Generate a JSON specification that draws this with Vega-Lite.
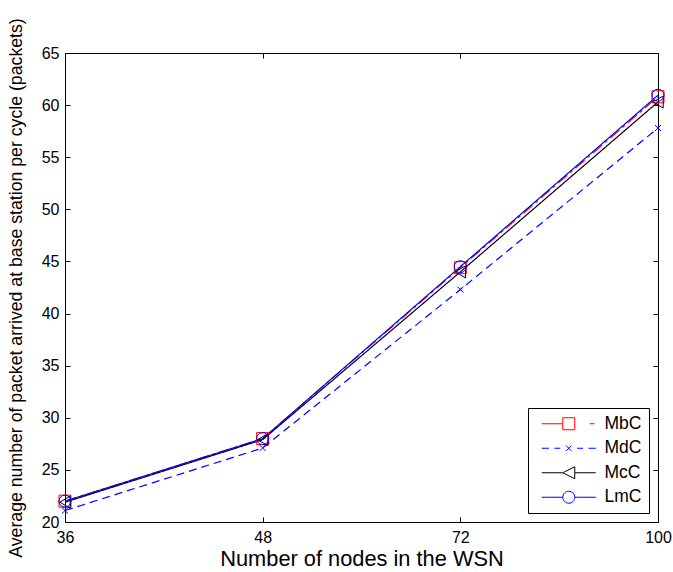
{
  "$schema": "https://vega.github.io/schema/vega-lite/v6.json",
  "width": 593,
  "height": 469,
  "autosize": {"type": "none"},
  "padding": {"left": 65, "top": 53, "right": 15, "bottom": 50},
  "background": "white",
  "config": {
    "view": {"stroke": "black", "strokeWidth": 1},
    "font": "Liberation Sans",
    "axis": {
      "grid": false,
      "domainColor": "black",
      "tickColor": "black",
      "labelColor": "black",
      "titleColor": "black",
      "titleFontWeight": "normal",
      "labelFont": "Liberation Sans",
      "titleFont": "Liberation Sans"
    },
    "legend": {
      "title": null, "orient": "none", "legendX": 463, "legendY": 355,
      "strokeColor": "black", "fillColor": "white", "padding": 7,
      "symbolSize": 144, "symbolStrokeWidth": 1, "symbolOffset": 25, "labelOffset": 27,
      "symbolOpacity": 1,
      "labelFontSize": 17.5, "labelFont": "Liberation Sans", "labelColor": "black", "rowPadding": 5.5
    }
  },
  "data": {
    "values": [
      {"nodes": 36, "series": "MbC", "value": 22.0},
      {"nodes": 48, "series": "MbC", "value": 28.0},
      {"nodes": 72, "series": "MbC", "value": 44.4},
      {"nodes": 100, "series": "MbC", "value": 60.8},
      {"nodes": 36, "series": "MdC", "value": 21.1},
      {"nodes": 48, "series": "MdC", "value": 27.1},
      {"nodes": 72, "series": "MdC", "value": 42.3},
      {"nodes": 100, "series": "MdC", "value": 57.8},
      {"nodes": 36, "series": "McC", "value": 21.9},
      {"nodes": 48, "series": "McC", "value": 27.9},
      {"nodes": 72, "series": "McC", "value": 44.0},
      {"nodes": 100, "series": "McC", "value": 60.3},
      {"nodes": 36, "series": "LmC", "value": 22.0},
      {"nodes": 48, "series": "LmC", "value": 28.0},
      {"nodes": 72, "series": "LmC", "value": 44.5},
      {"nodes": 100, "series": "LmC", "value": 60.95}
    ]
  },
  "layer": [
    {
      "mark": {"type": "line", "strokeWidth": 1.2},
      "encoding": {
        "x": {
          "field": "nodes", "type": "ordinal",
          "scale": {"type": "point", "domain": [36, 48, 72, 100], "padding": 0},
          "axis": {"title": "Number of nodes in the WSN", "titleFontSize": 21.8, "labelFontSize": 16, "labelAngle": 0, "tickSize": -5, "labelPadding": 12, "titlePadding": 3}
        },
        "y": {
          "field": "value", "type": "quantitative",
          "scale": {"domain": [20, 65], "nice": false, "zero": false},
          "axis": {"title": "Average number of packet arrived at base station per cycle (packets)", "titleFontSize": 17.7, "labelFontSize": 16, "values": [20, 25, 30, 35, 40, 45, 50, 55, 60, 65], "tickSize": -5, "labelPadding": 11, "titlePadding": 16}
        },
        "color": {
          "field": "series", "type": "nominal",
          "scale": {"domain": ["MbC", "MdC", "McC", "LmC"], "range": ["#ff0000", "#0000ff", "#000000", "#0000ff"]},
          "legend": null
        },
        "strokeDash": {
          "field": "series", "type": "nominal",
          "scale": {"domain": ["MbC", "MdC", "McC", "LmC"], "range": [[12, 4, 3, 4], [8, 5], [1, 0], [1, 0]]},
          "legend": null
        }
      }
    },
    {
      "mark": {"type": "point", "filled": false, "size": 144, "strokeWidth": 1, "opacity": 1},
      "encoding": {
        "x": {
          "field": "nodes", "type": "ordinal",
          "scale": {"type": "point", "domain": [36, 48, 72, 100], "padding": 0},
          "axis": {"orient": "top", "title": null, "labels": false, "domain": false, "tickSize": -5}
        },
        "y": {
          "field": "value", "type": "quantitative",
          "scale": {"domain": [20, 65], "nice": false, "zero": false},
          "axis": {"orient": "right", "title": null, "labels": false, "domain": false, "values": [20, 25, 30, 35, 40, 45, 50, 55, 60, 65], "tickSize": -5}
        },
        "color": {"field": "series", "type": "nominal", "legend": null},
        "shape": {
          "field": "series", "type": "nominal",
          "scale": {"domain": ["MbC", "MdC", "McC", "LmC"], "range": ["square", "M-0.5,-0.5L0.5,0.5M-0.5,0.5L0.5,-0.5", "triangle-left", "circle"]},
          "legend": null
        }
      }
    },
    {
      "mark": {"type": "point", "filled": false, "size": 0, "strokeWidth": 1, "opacity": 1},
      "encoding": {
        "x": {"field": "nodes", "type": "ordinal", "scale": {"type": "point", "domain": [36, 48, 72, 100], "padding": 0}, "axis": null},
        "y": {"field": "value", "type": "quantitative", "scale": {"domain": [20, 65], "nice": false, "zero": false}, "axis": null},
        "stroke": {
          "field": "series", "type": "nominal",
          "scale": {"domain": ["MbC", "MdC", "McC", "LmC"], "range": ["#ff0000", "#0000ff", "#000000", "#0000ff"]},
          "legend": {"title": null}
        },
        "shape": {
          "field": "series", "type": "nominal",
          "scale": {"domain": ["MbC", "MdC", "McC", "LmC"], "range": ["M-4.5,0H-1M-1,-1H1V1H-1ZM3.5,0H4.3", "M-4.5,0H-3.3M-2.4,0H-1.4M-0.45,-0.45L0.45,0.45M-0.45,0.45L0.45,-0.45M1.4,0H2.4M3.3,0H4.5", "M-4.5,0H-1L1,-1V1L-1,0M1,0H4.5", "M-4.5,0H-1M-1,0A1,1 0 1,0 1,0A1,1 0 1,0 -1,0M1,0H4.5"]},
          "legend": {"title": null}
        }
      }
    }
  ],
  "resolve": {
    "axis": {"x": "independent", "y": "independent"},
    "scale": {"shape": "independent", "stroke": "independent"},
    "legend": {"shape": "independent", "stroke": "independent"}
  }
}
